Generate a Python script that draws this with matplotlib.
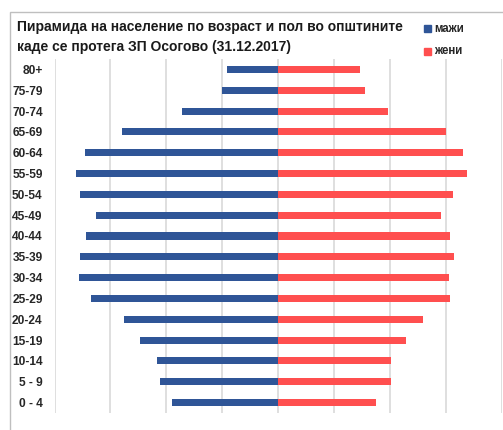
import matplotlib.pyplot as plt
import matplotlib.patches as mpatches

age_groups = ["0 - 4", "5 - 9", "10-14", "15-19", "20-24", "25-29", "30-34", "35-39",
              "40-44", "45-49", "50-54", "55-59", "60-64", "65-69", "70-74", "75-79", "80+"]
males = [190, 211, 216, 247, 275, 334, 356, 355, 343, 325, 354, 361, 345, 280, 172, 100, 92]
females = [176, 202, 202, 229, 259, 307, 306, 315, 307, 291, 312, 338, 330, 300, 197, 155, 147]
title_lines = ["Пирамида на население по возраст и пол во општините",
               "каде се протега ЗП Осогово (31.12.2017)"]
legend_labels = ["мажи", "жени"]

W, H = 503, 430
blue = "#2F5597"
red = "#FF4F4F"

fig = plt.figure(figsize=(W / 100, H / 100), dpi=100)
plt.rcParams['font.family'] = ['Liberation Sans', 'DejaVu Sans']

# chart border (cut off on right/bottom in the original)
fig.patches.append(mpatches.Rectangle((10 / W, -0.1), 1.2, (H - 12) / H + 0.1,
                                      transform=fig.transFigure, fill=False,
                                      ec="#BFBFBF", lw=1.0))

ax = fig.add_axes([54.5 / W, (H - 413) / H, (501.7 - 54.5) / W, (413 - 59) / H])
y = range(len(age_groups))
ax.barh(y, [-m for m in males], height=0.34, color=blue, label=legend_labels[0])
ax.barh(y, females, height=0.34, color=red, label=legend_labels[1])

ax.set_xlim(-400, 400)
ax.set_ylim(-0.5, len(age_groups) - 0.5)
ax.set_xticks(range(-400, 401, 100))
ax.set_xticklabels([])
ax.tick_params(axis='x', length=0)
ax.tick_params(axis='y', length=0, pad=8.5)
ax.set_yticks(list(y))
ax.set_yticklabels(age_groups, fontsize=8.6, fontweight='bold', color='#262626')
ax.grid(axis='x', color='#D9D9D9', lw=1.2)
ax.set_axisbelow(True)
for s in ax.spines.values():
    s.set_visible(False)

fig.text(17 / W, 1 - 27 / H, title_lines[0], fontsize=10.0, fontweight='bold',
         va='center', ha='left', color='#1a1a1a')
fig.text(17 / W, 1 - 47 / H, title_lines[1], fontsize=10.0, fontweight='bold',
         va='center', ha='left', color='#1a1a1a')

# legend
for i, (lab, col) in enumerate(zip(legend_labels, [blue, red])):
    yy = 1 - (29 + 22 * i) / H
    fig.patches.append(mpatches.Rectangle((424 / W, yy - 3.5 / H), 7 / W, 7 / H,
                                          transform=fig.transFigure, color=col))
    fig.text(434 / W, yy, lab, fontsize=8.3, fontweight='bold', va='center',
             ha='left', color='#262626')

fig.savefig("out.png", dpi=100)
